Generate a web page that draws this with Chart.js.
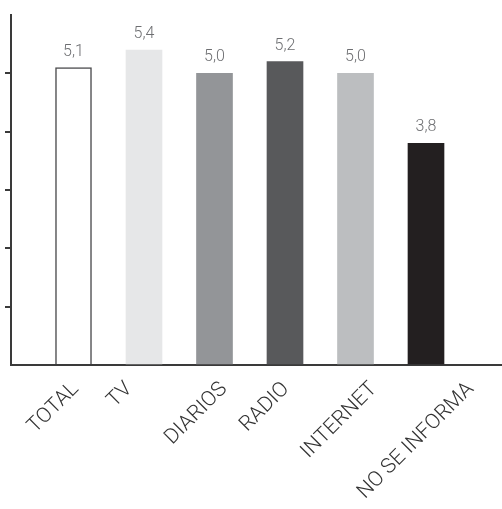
<!DOCTYPE html>
<html>
<head>
<meta charset="utf-8">
<script src="https://cdn.jsdelivr.net/npm/chart.js@4.4.0/dist/chart.umd.min.js"></script>
<style>
  html, body { margin: 0; padding: 0; background: #fff; }
  #wrap { width: 502px; height: 509px; position: relative; }
</style>
</head>
<body>
<div id="wrap"><canvas id="c"></canvas></div>
<script>
// data
const categories = ['TOTAL', 'TV', 'DIARIOS', 'RADIO', 'INTERNET', 'NO SE INFORMA'];
const values = [5.1, 5.4, 5.0, 5.2, 5.0, 3.8];
const barColors = ['#ffffff', '#e6e7e8', '#939598', '#58595b', '#bcbec0', '#231f20'];
const barBorders = ['#4d4d4f', '#e6e7e8', '#939598', '#58595b', '#bcbec0', '#231f20'];
const yTicks = [0, 1, 2, 3, 4, 5, 6];

const labelFont = { family: 'Roboto', size: 21, weight: '300' };
const valueFont = '300 16px Roboto';

// value labels above each bar
const valueLabels = {
  id: 'valueLabels',
  afterDatasetsDraw(chart) {
    const ctx = chart.ctx;
    const meta = chart.getDatasetMeta(0);
    ctx.save();
    ctx.font = valueFont;
    ctx.fillStyle = '#6d6e71';
    ctx.textAlign = 'center';
    ctx.textBaseline = 'bottom';
    meta.data.forEach((bar, i) => {
      const txt = values[i].toFixed(1).replace('.', ',');
      ctx.fillText(txt, bar.x, bar.y - 8);
    });
    ctx.restore();
  }
};

const ctx = document.getElementById('c').getContext('2d');
new Chart(ctx, {
  type: 'bar',
  data: {
    datasets: [{
      data: values.map((v, i) => ({ x: i, y: v })),
      backgroundColor: barColors,
      borderColor: barBorders,
      borderWidth: [1.5, 0, 0, 0, 0, 0],
      barThickness: 36
    }]
  },
  options: {
    responsive: true,
    maintainAspectRatio: false,
    animation: false,
    layout: { padding: { left: 5, top: 15, right: 0, bottom: 0 } },
    plugins: { legend: { display: false }, tooltip: { enabled: false } },
    scales: {
      x: {
        type: 'linear',
        offset: false,
        min: -0.8865,
        max: 6.078,
        grid: { display: false, offset: false },
        border: { display: true, color: '#3a3a3a', width: 2 },
        ticks: {
          autoSkip: false,
          includeBounds: false,
          minRotation: 45,
          maxRotation: 45,
          padding: 4,
          color: '#333',
          font: labelFont,
          callback: (v, i) => categories[i]
        },
        afterBuildTicks(scale) {
          // rotated labels sit a little off the bar centre, the way the source tool centres them
          const c = scale.ctx;
          c.save();
          c.font = labelFont.weight + ' ' + labelFont.size + 'px ' + labelFont.family;
          const pxPerUnit = 70.5;
          scale.ticks = categories.map((name, i) => {
            const w = c.measureText(name).width;
            return { value: i + (0.46 * w - 26.5) / pxPerUnit };
          });
          c.restore();
        },
        afterFit(scale) {
          scale.height = 144;
          scale.paddingLeft = 0;
          scale.paddingRight = 0;
        }
      },
      y: {
        min: 0,
        max: 6,
        afterBuildTicks(scale) {
          scale.ticks = yTicks.map(v => ({ value: v }));
        },
        grid: {
          drawOnChartArea: false,
          drawTicks: true,
          tickLength: 6,
          lineWidth: 2,
          color: c => (c.tick && (c.tick.value === 0 || c.tick.value === 6)) ? 'rgba(0,0,0,0)' : '#3a3a3a'
        },
        border: { display: true, color: '#3a3a3a', width: 2 },
        ticks: { display: false }
      }
    }
  },
  plugins: [valueLabels]
});
</script>
</body>
</html>
